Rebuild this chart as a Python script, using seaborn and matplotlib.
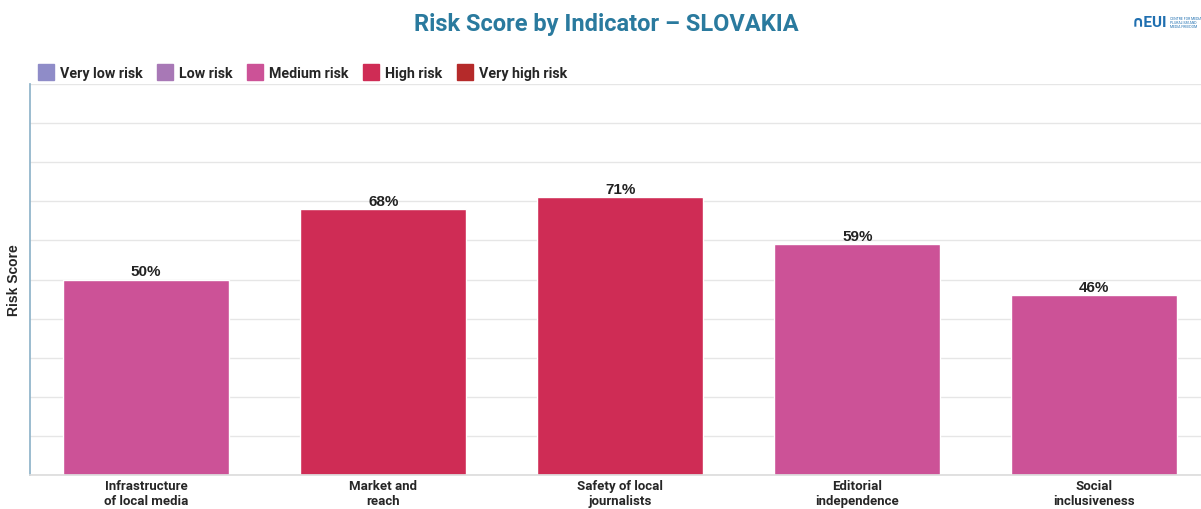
import numpy as np
import pandas as pd
import matplotlib.pyplot as plt
from matplotlib.lines import Line2D
import seaborn as sns

indicators = [
    "Infrastructure\nof local media",
    "Market and\nreach",
    "Safety of local\njournalists",
    "Editorial\nindependence",
    "Social\ninclusiveness",
]
scores = [50, 68, 71, 59, 46]
levels = ["Medium risk", "High risk", "High risk", "Medium risk", "Medium risk"]

risk_levels = ["Very low risk", "Low risk", "Medium risk", "High risk", "Very high risk"]
risk_colors = ["#8f8cc8", "#a878b6", "#cc5297", "#cf2c55", "#b52a2a"]

df = pd.DataFrame({"Indicator": indicators, "Score": scores, "Level": levels})

sns.set_theme(style="white")
plt.rcParams["font.family"] = ["Roboto", "DejaVu Sans"]

fig = plt.figure(figsize=(12.01, 5.10), dpi=100)
ax = fig.add_axes([30 / 1201, 34 / 510, 1171 / 1201, 391 / 510])

sns.barplot(
    data=df, x="Indicator", y="Score", hue="Level",
    palette=dict(zip(risk_levels, risk_colors)),
    dodge=False, width=0.70, legend=False, ax=ax, saturation=1,
)

ax.set_ylim(0, 100)
ax.set_xlim(-0.49, 4.45)
ax.set_yticks(np.arange(0, 101, 10))
ax.set_yticklabels([])
ax.tick_params(axis="y", length=0)
ax.tick_params(axis="x", length=0, pad=3)
ax.yaxis.grid(True, color="#e6e6e6", linewidth=1)
ax.set_axisbelow(True)
for s in ["top", "right"]:
    ax.spines[s].set_visible(False)
ax.spines["left"].set_color("#8fb3c9")
ax.spines["bottom"].set_color("#dddddd")

for lbl in ax.get_xticklabels():
    lbl.set_fontweight("bold")
    lbl.set_fontsize(9.5)
    lbl.set_linespacing(1.15)

ax.set_xlabel("")
ax.set_ylabel("Risk Score", fontsize=10, fontweight="bold", labelpad=3,
              family=["Liberation Sans", "DejaVu Sans"])

for i, v in enumerate(scores):
    ax.text(i, v + 0.3, f"{v}%", ha="center", va="bottom",
            fontsize=11, fontweight="bold", color="#222222",
            family=["Liberation Sans", "DejaVu Sans"])

handles = [
    Line2D([0], [0], marker="s", linestyle="", markersize=12,
           markerfacecolor=c, markeredgecolor=c, label=l)
    for l, c in zip(risk_levels, risk_colors)
]
fig.legend(
    handles=handles, loc="upper left", bbox_to_anchor=(26 / 1201, 1 - 54 / 510),
    ncol=5, frameon=False, handletextpad=0.45, columnspacing=1.1,
    prop={"weight": "bold", "size": 10.3}, handlelength=1.0,
)

fig.text(0.505, 1 - 25 / 510, "Risk Score by Indicator \u2013 SLOVAKIA",
         ha="center", va="center", fontsize=17, fontweight="bold",
         color="#2a7a9e")

fig.text(1132 / 1201, 1 - 23 / 510, "\u2229EUI", ha="left", va="center",
         fontsize=11, fontweight="bold", color="#1f6fb0")
fig.text(1170 / 1201, 1 - 23 / 510, "CENTRE FOR MEDIA\nPLURALISM AND\nMEDIA FREEDOM",
         ha="left", va="center", fontsize=2.5, color="#1f6fb0", linespacing=1.1)

fig.savefig("out.png", dpi=100)
